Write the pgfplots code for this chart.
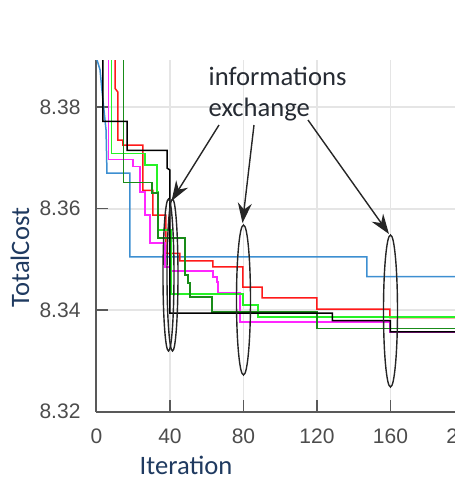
\documentclass[border=0pt]{standalone}
\usepackage{fontspec}
\setmainfont{Liberation Sans}
\newfontfamily\calfont{Carlito}
\usepackage{pgfplots}
\pgfplotsset{compat=1.18}
\usetikzlibrary{arrows.meta}
\definecolor{mblue}{rgb}{0.24,0.56,0.82}
\definecolor{mred}{rgb}{1,0.1,0.1}
\definecolor{mmag}{rgb}{1,0.15,1}
\definecolor{mlgreen}{rgb}{0.15,0.95,0.15}
\definecolor{mdgreen}{rgb}{0.1,0.55,0.1}
\definecolor{navylab}{HTML}{1F3A60}
\definecolor{annot}{HTML}{262B33}
\begin{document}
\begin{tikzpicture}
\useasboundingbox (0,0) rectangle (227.5pt,-239.5pt);
\clip (0,0) rectangle (227.5pt,-239.5pt);
\begin{axis}[
  at={(48.25pt,-205.75pt)}, anchor=south west,
  scale only axis, width=183.75pt, height=175.75pt,
  xmin=0, xmax=200, ymin=8.32, ymax=8.3893,
  axis x line*=bottom, axis y line*=left,
  xtick={0,40,...,200}, ytick={8.32,8.34,8.36,8.38},
  yticklabel style={xshift=-4.5pt, /pgf/number format/.cd,fixed,fixed zerofill,precision=2},
  xticklabel style={yshift=-5pt},
  scaled y ticks=false,
  tick align=inside, major tick length=6pt,
  grid=major, major grid style={draw=black!10, line width=0.9pt},
  axis line style={draw=black!65, line width=1pt},
  tick style={draw=black!65, line width=0.8pt},
  /pgf/number format/assume math mode=true,
  ticklabel style={font=\fontsize{10.5}{12}\selectfont, text=black!70},
  xlabel={Iteration}, ylabel={TotalCost},
  label style={font=\calfont\fontsize{13.3}{15}\selectfont, text=navylab},
  xlabel style={at={(axis description cs:0.2435,-0.152)}, anchor=center},
  ylabel style={at={(axis description cs:-0.208,0.438)}, anchor=center},
  clip=true,
  every axis plot/.append style={line width=0.75pt},
]
% blue
\addplot[mblue] coordinates {(0,8.40)(0.3,8.3893)(1.9,8.3874)(3.5,8.3814)(5.2,8.3755)(5.7,8.367)(18.2,8.367)(18.2,8.3505)(147.2,8.3505)(147.2,8.3466)(200,8.3466)};
% red
\addplot[mred] coordinates {(10.1,8.40)(10.1,8.3837)(11.6,8.3830)(11.6,8.3735)(14.4,8.3735)(14.4,8.3725)(25.3,8.3725)(25.3,8.3636)(30.7,8.3636)(30.7,8.3587)(37.8,8.3587)(37.8,8.3512)(45.4,8.3512)(45.4,8.3497)(63.4,8.3497)(63.4,8.3485)(79.7,8.3485)(79.7,8.3445)(90.1,8.3445)(90.1,8.3424)(120,8.3424)(120,8.3402)(159.7,8.3402)(159.7,8.3385)(200,8.3385)};
% magenta
\addplot[mmag] coordinates {(6.5,8.40)(6.5,8.3697)(19.9,8.3697)(19.9,8.3683)(23.7,8.3683)(23.7,8.3633)(26.4,8.3633)(26.4,8.3587)(29.1,8.3587)(29.1,8.3532)(37.3,8.3532)(37.3,8.3485)(40,8.3485)(40,8.3477)(63.4,8.3477)(63.4,8.3465)(65.6,8.3465)(65.6,8.3455)(66.1,8.3455)(66.1,8.3435)(78.1,8.3435)(78.1,8.3376)(159.7,8.3376)(159.7,8.3356)(200,8.3356)};
% light green
\addplot[mlgreen] coordinates {(8.3,8.40)(8.3,8.3709)(26.4,8.3709)(26.4,8.3686)(32.9,8.3686)(32.9,8.3633)(33.5,8.3633)(33.5,8.3558)(40.5,8.3558)(40.5,8.3432)(79.7,8.3432)(79.7,8.341)(87.9,8.341)(87.9,8.3386)(200,8.3386)};
% dark green
\addplot[mdgreen] coordinates {(14.6,8.40)(14.6,8.3652)(30.2,8.3652)(30.2,8.3631)(33.5,8.3631)(33.5,8.3542)(48.2,8.3542)(48.2,8.3469)(49.8,8.3469)(49.8,8.3453)(50.9,8.3453)(50.9,8.3426)(62.9,8.3426)(62.9,8.3396)(120,8.3396)(120,8.3364)(200,8.3364)};
% black
\addplot[black] coordinates {(3.5,8.40)(3.5,8.3772)(16.6,8.3772)(16.6,8.3715)(38.4,8.3715)(38.4,8.368)(40,8.3676)(40,8.3394)(128.4,8.3394)(128.4,8.3379)(160,8.3379)(160,8.3357)(200,8.3357)};
\end{axis}
\begin{scope}[x=0.5pt,y=-0.5pt, line width=0.7pt, draw=black!85]
\draw (168.5,275) ellipse (2.75pt and 38pt);
\draw (172.5,275) ellipse (2.75pt and 38pt);
\draw (243.5,300) ellipse (3.5pt and 37.5pt);
\draw (390.5,311) ellipse (3.5pt and 38pt);
\draw[-{Stealth[length=10pt,width=7pt]}] (219,125) -- (171.5,201);
\draw[-{Stealth[length=10pt,width=7pt]}] (254,125) -- (242.5,223);
\draw[-{Stealth[length=10pt,width=7pt]}] (308,120) -- (389,234);
\node[font=\calfont\fontsize{13.3}{15}\selectfont, text=annot, anchor=base west, inner sep=0pt] at (208,85.5) {informations};
\node[font=\calfont\fontsize{13.3}{15}\selectfont, text=annot, anchor=base west, inner sep=0pt] at (208,116.5) {exchange};
\end{scope}
\end{tikzpicture}
\end{document}
